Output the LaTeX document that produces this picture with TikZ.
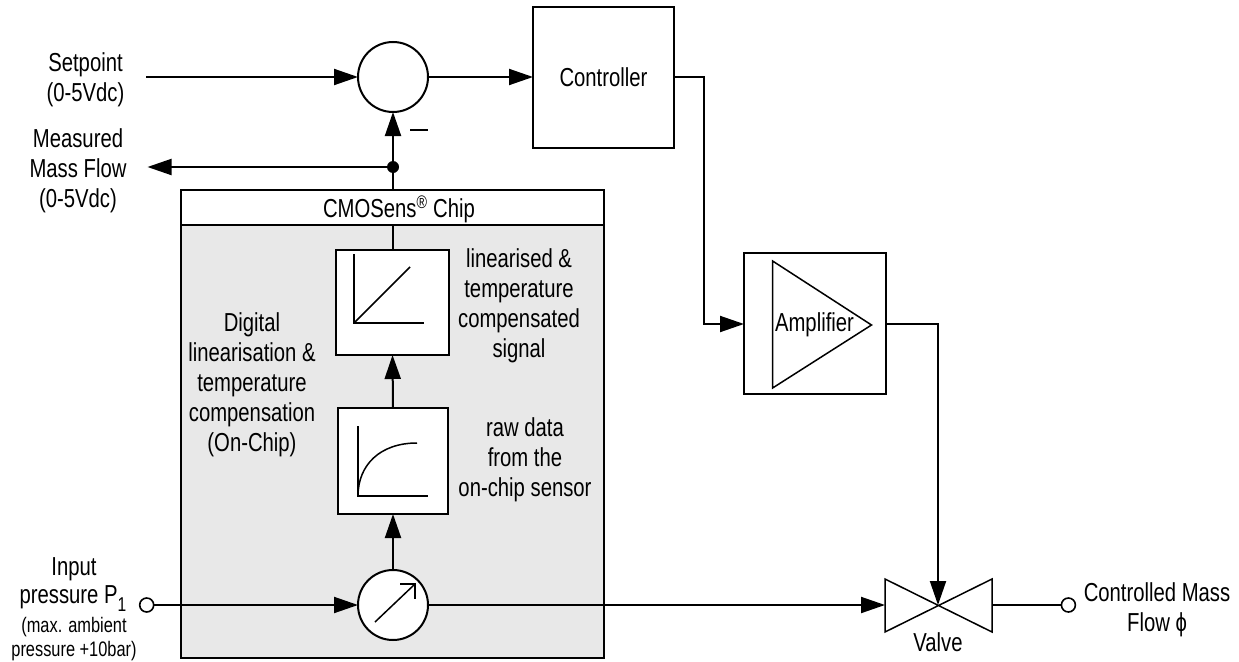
\documentclass[tikz,border=0pt]{standalone}
\usepackage{fontspec}
\setmainfont[FakeStretch=0.78]{Liberation Sans}
\usetikzlibrary{arrows.meta}
\tikzset{
  x=1pt,y=-1pt,
  every node/.style={inner sep=0pt,outer sep=0pt},
  line/.style={line width=2pt,draw=black},
  arr/.style={line width=2pt,-{Triangle[length=24pt,width=16pt]}},
  thin line/.style={line width=1.5pt},
  boxn/.style={draw,line width=2pt,fill=white,anchor=north west},
  circ/.style={draw,circle,line width=2pt,fill=white,minimum size=70pt},
  term/.style={draw,circle,line width=1.6pt,fill=white,minimum size=14pt},
  txt/.style={font=\fontsize{26}{30}\selectfont,align=center,anchor=center},
  small/.style={font=\fontsize{21}{24}\selectfont,align=center,anchor=center},
}
\begin{document}
\begin{tikzpicture}
\useasboundingbox (0,0) rectangle (1239,661);
% chip
\node[boxn,fill=black!9,minimum width=423pt,minimum height=468pt] (chip) at (181,190) {};
\node[boxn,minimum width=423pt,minimum height=35pt] (chiphead) at (181,190) {};
\node[txt] (chiplabel) at (399,209) {CMOSens\textsuperscript{®} Chip};
% blocks
\node[circ] (sum) at (393,77) {};
\node[boxn,minimum width=141pt,minimum height=141pt] (ctrl) at (533,7) {};
\node[txt] (ctrllabel) at (603.5,77) {Controller};
\node[boxn,minimum width=142pt,minimum height=141pt] (amp) at (744,253) {};
\node[boxn,minimum width=113pt,minimum height=105pt] (lin) at (336,250) {};
\node[boxn,minimum width=110pt,minimum height=106pt] (raw) at (338,408) {};
\node[circ] (sensor) at (393,605) {};
\node[term] (pin) at (146.7,605) {};
\node[term] (pout) at (1068.4,605) {};
\node[circle,fill=black,minimum size=12pt] (junc) at (393,167) {};
\coordinate (valve) at (938,605);
\coordinate (valveL) at (885,605);
\coordinate (valveR) at (992,605);
\coordinate (spin) at (146,77);
\coordinate (mout) at (147.5,167);
% amplifier triangle
\draw[thin line,line join=miter] (772.6,261) -- (871.5,325) -- (772.6,388) -- cycle;
\node[txt] (amplabel) at (814.5,325) {Amplifier};
% valve
\draw[thin line,line join=miter] (885,579) -- (992,632) -- (992,579) -- (885,632) -- cycle;
% graphs
\draw[thin line] (354,254) -- (354,323) -- (424,323);
\draw[thin line] (354,323) -- (410,267);
\draw[thin line] (358,426) -- (358,496) -- (427.5,496);
\draw[thin line] (358,496) .. controls (358,465) and (380,443) .. (417,443);
\draw[thin line] (375,622) -- (415,584);
\draw[thin line] (400,584) -- (415,584) -- (415,599);
% connectors
\draw[arr] (spin) -- (sum);
\draw[arr] (sum) -- (ctrl.west |- sum);
\draw[line] (chiphead.north -| sum) -- (junc);
\draw[arr] (junc) -- (sum);
\draw[arr] (junc) -- (mout);
\draw[line] (lin.north) -- (lin.north |- chiphead.south);
\draw[arr] (raw.north) -- (lin.south);
\draw[arr] (sensor) -- (raw.south);
\draw[arr] (pin) -- (sensor);
\draw[arr] (sensor) -- (valveL);
\draw[line] (valveR) -- (pout);
\draw[arr] (ctrl.east |- sum) -- (704,77) |- (amp.west |- 0,324);
\draw[arr] (amp.east |- 0,324) -| (valve);
\draw[line] (410,130) -- (428,130);
% texts
\node[txt] (t1) at (85.5,80) {Setpoint\\(0-5Vdc)};
\node[txt] (t2) at (78,171) {Measured\\Mass Flow\\(0-5Vdc)};
\node[txt] (t3) at (519,306) {linearised \&\\temperature\\compensated\\signal};
\node[txt] (t4) at (252,385) {Digital\\linearisation \&\\temperature\\compensation\\(On-Chip)};
\node[txt] (t5) at (525,460) {raw data\\from the\\on-chip sensor};
\node[txt] (t6) at (74,569) {Input};
\node[txt] (t7) at (73,599) {pressure P\raisebox{-8pt}{\fontsize{20}{20}\selectfont 1}};
\node[small] (t8) at (74,639) {(max. ambient\\pressure +10bar)};
\node[txt] (t9) at (938,642) {Valve};
\node[txt] (t10) at (1157,609.5) {Controlled Mass\\Flow ϕ};
\end{tikzpicture}
\end{document}
